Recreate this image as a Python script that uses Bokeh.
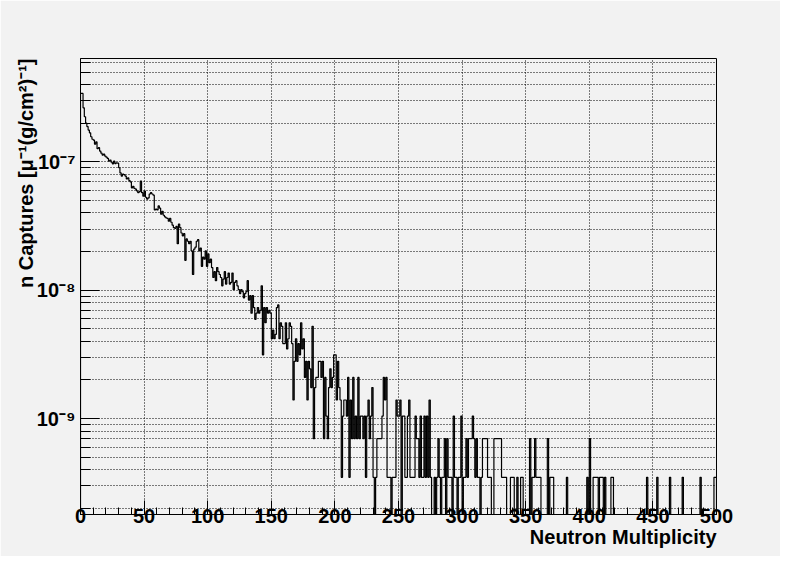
import numpy as np
from bokeh.plotting import figure
from bokeh.models import Range1d, FixedTicker, CustomJSTickFormatter, Title
from bokeh.embed import file_html
from bokeh.resources import INLINE

# ---------------- data ----------------
x_min, x_max = 0, 500
n_bins = 500
entry_weight = 3.49e-10          # value of one entry in the y unit
y_start, y_end = 1.79e-10, 6.39e-7

counts = [
    979, 979, 756, 644, 574, 540, 507, 483, 450, 430,
    424, 394, 410, 363, 370, 348, 335, 324, 330, 318,
    312, 305, 291, 296, 285, 277, 290, 278, 282, 280,
    258, 235, 222, 230, 228, 222, 211, 215, 205, 200,
    180, 185, 178, 176, 170, 165, 168, 203, 165, 155,
    170, 152, 147, 150, 161, 165, 161, 158, 121, 123,
    121, 130, 125, 112, 118, 110, 107, 105, 104, 99,
    104, 97, 92, 88, 87, 90, 66, 94, 88, 80,
    76, 79, 49, 72, 69, 66, 69, 58, 38, 60,
    62, 69, 71, 58, 61, 44, 52, 50, 58, 44,
    55, 47, 50, 43, 36, 40, 34, 43, 40, 38,
    36, 31, 35, 40, 32, 36, 39, 32, 33, 39,
    29, 33, 34, 31, 29, 27, 29, 28, 25, 27,
    28, 34, 24, 26, 19, 26, 21, 17, 19, 21,
    19, 20, 31, 9, 21, 16, 21, 19, 20, 19,
    12, 14, 12, 13, 21, 22, 12, 16, 15, 11,
    11, 16, 10, 12, 16, 15, 11, 4, 8, 12,
    8, 11, 9, 16, 10, 12, 6, 8, 4, 8,
    7, 5, 15, 2, 5, 6, 6, 8, 8, 6,
    8, 2, 6, 3, 2, 5, 7, 5, 6, 9,
    9, 4, 8, 5, 4, 1, 3, 4, 4, 3,
    6, 1, 4, 2, 6, 2, 3, 2, 6, 2,
    3, 3, 2, 3, 1, 3, 4, 2, 3, 5,
    1, 0, 1, 2, 2, 2, 2, 3, 6, 4,
    6, 1, 1, 1, 0, 1, 1, 1, 4, 3,
    3, 4, 0, 3, 3, 1, 1, 3, 4, 1,
    1, 1, 1, 3, 2, 2, 1, 3, 1, 1,
    3, 1, 3, 1, 4, 1, 0, 0, 1, 0,
    1, 2, 1, 0, 1, 1, 2, 0, 2, 1,
    1, 1, 0, 3, 1, 1, 0, 1, 1, 3,
    0, 1, 1, 2, 1, 2, 2, 2, 3, 2,
    1, 2, 1, 1, 0, 1, 2, 2, 2, 2,
    1, 1, 1, 0, 0, 2, 2, 2, 2, 2,
    2, 1, 1, 1, 1, 0, 0, 0, 1, 1,
    1, 0, 0, 1, 0, 0, 1, 1, 0, 0,
    0, 0, 0, 2, 0, 1, 1, 2, 1, 1,
    1, 1, 0, 0, 0, 0, 0, 2, 0, 1,
    1, 1, 0, 0, 0, 0, 0, 0, 0, 0,
    0, 0, 1, 0, 0, 0, 0, 0, 0, 0,
    0, 0, 0, 0, 0, 0, 0, 0, 1, 0,
    2, 0, 0, 1, 1, 1, 1, 0, 1, 1,
    1, 0, 1, 0, 0, 0, 0, 1, 1, 0,
    0, 0, 0, 0, 0, 0, 0, 0, 0, 0,
    0, 0, 0, 0, 0, 0, 0, 0, 0, 0,
    0, 0, 0, 0, 0, 1, 0, 0, 0, 0,
    0, 0, 0, 1, 0, 0, 0, 0, 0, 0,
    0, 0, 0, 1, 0, 0, 0, 0, 0, 0,
    0, 0, 0, 1, 0, 0, 0, 0, 0, 0,
    0, 0, 0, 0, 0, 0, 0, 1, 0, 0,
    0, 0, 0, 0, 0, 0, 0, 0, 1, 1,
]

x_major_ticks = [0, 50, 100, 150, 200, 250, 300, 350, 400, 450, 500]
x_minor_step = 10
y_decades = [-9, -8, -7]

x_title = "Neutron Multiplicity"
y_title = "n Captures [\u03bc\u207b\u00b9(g/cm\u00b2)\u207b\u00b9]"

FONT = "Liberation Sans"
BG = "#f2f2f2"

# ---------------- histogram path ----------------
edges = np.linspace(x_min, x_max, n_bins + 1)
vals = np.array(counts, dtype=float) * entry_weight
vals = np.where(vals > 0, vals, y_start)
xs = np.repeat(edges, 2)
ys = np.concatenate([[y_start], np.repeat(vals, 2), [y_start]])

# ---------------- figure ----------------
p = figure(width=780, height=556, output_backend="svg", toolbar_location=None,
           x_range=Range1d(x_min, x_max), y_range=Range1d(y_start, y_end),
           y_axis_type="log",
           min_border_left=80, min_border_right=64,
           min_border_top=58, min_border_bottom=42)
p.background_fill_color = BG
p.border_fill_color = BG
p.outline_line_color = "black"
p.outline_line_width = 1

p.xaxis.ticker = FixedTicker(ticks=x_major_ticks,
                             minor_ticks=list(range(x_min, x_max + 1, x_minor_step)))
y_minor = [m * 10.0 ** d for d in [-10] + y_decades for m in range(2, 10)]
p.yaxis.ticker = FixedTicker(ticks=[10.0 ** d for d in y_decades], minor_ticks=y_minor)

p.yaxis.formatter = CustomJSTickFormatter(code="""
const sup = {'-': '\u207b', '0': '\u2070', '1': '\u00b9', '2': '\u00b2', '3': '\u00b3',
             '4': '\u2074', '5': '\u2075', '6': '\u2076', '7': '\u2077', '8': '\u2078', '9': '\u2079'};
const e = Math.round(Math.log10(tick));
return '10' + String(e).split('').map(c => sup[c]).join('');
""")

for ax in (p.xaxis, p.yaxis):
    ax.axis_line_color = "black"
    ax.major_tick_line_color = "black"
    ax.minor_tick_line_color = "black"
    ax.major_tick_out = 0
    ax.minor_tick_out = 0
    ax.major_label_text_font = FONT
    ax.major_label_text_font_style = "bold"
    ax.major_label_text_font_size = "20px"
    ax.major_label_text_color = "black"

p.xaxis.major_tick_in = 14
p.xaxis.minor_tick_in = 7
p.xaxis.major_label_standoff = -6

p.yaxis.major_tick_in = 19
p.yaxis.minor_tick_in = 10
p.yaxis.major_label_standoff = 5

# axis titles, right-aligned at the end of each axis (ROOT style)
p.add_layout(Title(text=x_title, align="right", text_font=FONT, text_font_style="bold",
                   text_font_size="20px", text_color="black", standoff=-4), "below")
p.add_layout(Title(text=y_title, align="right", text_font=FONT, text_font_style="bold",
                   text_font_size="20px", text_color="black", standoff=-7), "left")

p.xgrid.grid_line_color = "black"
p.xgrid.grid_line_dash = "1 2"
p.xgrid.grid_line_width = 1
p.ygrid.grid_line_color = "black"
p.ygrid.grid_line_dash = "1 2"
p.ygrid.grid_line_width = 1
p.ygrid.minor_grid_line_color = "black"
p.ygrid.minor_grid_line_dash = "1 2"
p.ygrid.minor_grid_line_width = 1

p.line(xs, ys, line_color="black", line_width=1.2)

open("out.html", "w").write(file_html(p, INLINE))
